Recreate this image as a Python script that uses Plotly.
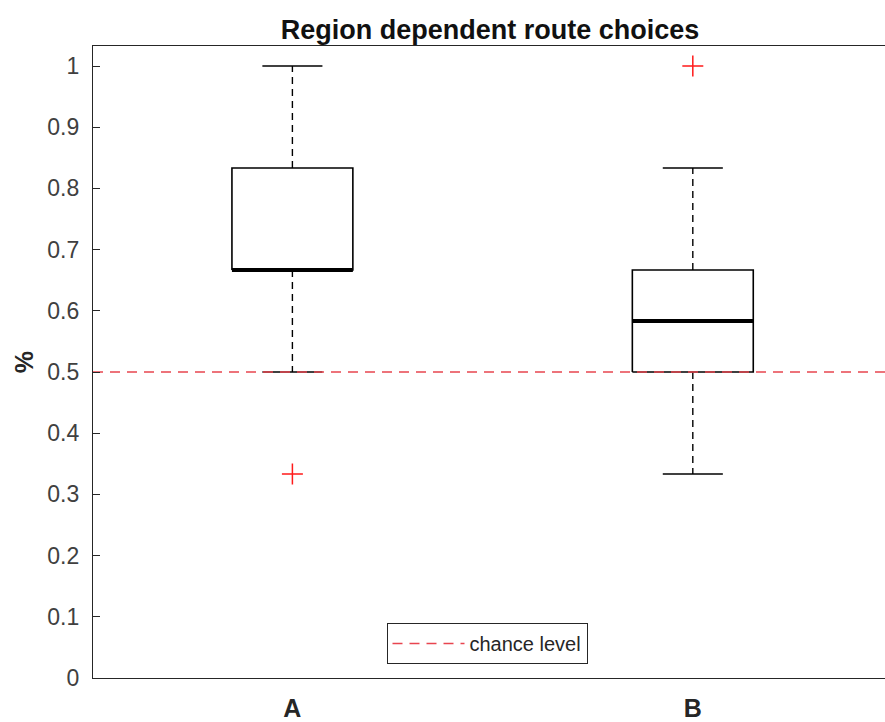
import plotly.graph_objects as go

# ---- data ----
categories = ["A", "B"]
upper_whisker = [1.0, 0.8333]
q3 = [0.8333, 0.6667]
median = [0.6667, 0.5833]
q1 = [0.6667, 0.5]
lower_whisker = [0.5, 0.3333]
outliers = [[0.3333], [1.0]]
chance_level = 0.5
y_ticks = [0, 0.1, 0.2, 0.3, 0.4, 0.5, 0.6, 0.7, 0.8, 0.9, 1]
y_tick_labels = ["0", "0.1", "0.2", "0.3", "0.4", "0.5", "0.6", "0.7", "0.8", "0.9", "1"]

# ---- style ----
BOX_HALF = 0.151
CAP_HALF = 0.075
XMIN, XMAX = 0.502, 2.48
FONT = "Liberation Sans, Arial, Helvetica, sans-serif"

fig = go.Figure()

for i, cat in enumerate(categories):
    x = i + 1
    # box
    fig.add_trace(go.Scatter(
        x=[x - BOX_HALF, x + BOX_HALF, x + BOX_HALF, x - BOX_HALF, x - BOX_HALF],
        y=[q1[i], q1[i], q3[i], q3[i], q1[i]],
        mode="lines", line=dict(color="black", width=1.6),
        showlegend=False, hoverinfo="skip"))
    # whiskers (dashed)
    fig.add_trace(go.Scatter(
        x=[x, x, None, x, x],
        y=[q3[i], upper_whisker[i], None, q1[i], lower_whisker[i]],
        mode="lines", line=dict(color="black", width=1.4, dash="7px,5px"),
        showlegend=False, hoverinfo="skip"))
    # caps
    fig.add_trace(go.Scatter(
        x=[x - CAP_HALF, x + CAP_HALF, None, x - CAP_HALF, x + CAP_HALF],
        y=[upper_whisker[i], upper_whisker[i], None, lower_whisker[i], lower_whisker[i]],
        mode="lines", line=dict(color="black", width=1.6),
        showlegend=False, hoverinfo="skip"))
    # median
    fig.add_trace(go.Scatter(
        x=[x - BOX_HALF, x + BOX_HALF],
        y=[median[i], median[i]],
        mode="lines", line=dict(color="black", width=4),
        showlegend=False, hoverinfo="skip"))
    # outliers
    fig.add_trace(go.Scatter(
        x=[x] * len(outliers[i]), y=outliers[i],
        mode="markers",
        marker=dict(symbol="cross-thin", size=15, line=dict(color="#ff1a1a", width=1.5)),
        showlegend=False, hoverinfo="skip"))

# chance level line
fig.add_trace(go.Scatter(
    x=[XMIN, XMAX], y=[chance_level, chance_level],
    mode="lines", line=dict(color="#e8454f", width=1.4, dash="10px,7px"),
    name="chance level"))

fig.update_layout(
    width=885, height=722,
    margin=dict(l=93, r=0, t=46, b=44, autoexpand=False),
    paper_bgcolor="white", plot_bgcolor="white",
    font=dict(family=FONT, size=22, color="#262626"),
    title=dict(text="<b>Region dependent route choices</b>", x=490 / 885,
               xanchor="center", y=1 - 30 / 722, yanchor="middle",
               font=dict(size=27, color="#111111", family=FONT)),
    showlegend=True,
    legend=dict(x=(487 - 93) / 792, xanchor="center", y=(678 - 664) / 632, yanchor="bottom",
                bordercolor="#262626", borderwidth=1, bgcolor="white",
                font=dict(size=20, color="#262626", family=FONT),
                itemwidth=72, tracegroupgap=0),
)

fig.update_xaxes(
    range=[XMIN, XMAX], tickvals=[1, 2],
    ticktext=["<b>" + c + "</b>" for c in categories],
    tickfont=dict(size=25, color="#262626"),
    showline=True, linecolor="#262626", linewidth=1.2, mirror=True,
    ticks="", showgrid=False, zeroline=False, ticklabelstandoff=8,
    automargin=False)

fig.update_yaxes(
    range=[0, 1.0327], tickvals=y_ticks, ticktext=y_tick_labels,
    tickfont=dict(size=23, color="#404040"),
    showline=True, linecolor="#262626", linewidth=1.2, mirror=False,
    ticks="inside", ticklen=7, tickcolor="#262626", tickwidth=1,
    showgrid=False, zeroline=False, ticklabelstandoff=8,
    title=dict(text="<b>%</b>", font=dict(size=25, color="#262626"), standoff=6),
    automargin=False)

fig.write_html("out.html",
               config={"displayModeBar": False},
               post_script="document.body.style.margin='0px';document.body.style.overflow='hidden';")
